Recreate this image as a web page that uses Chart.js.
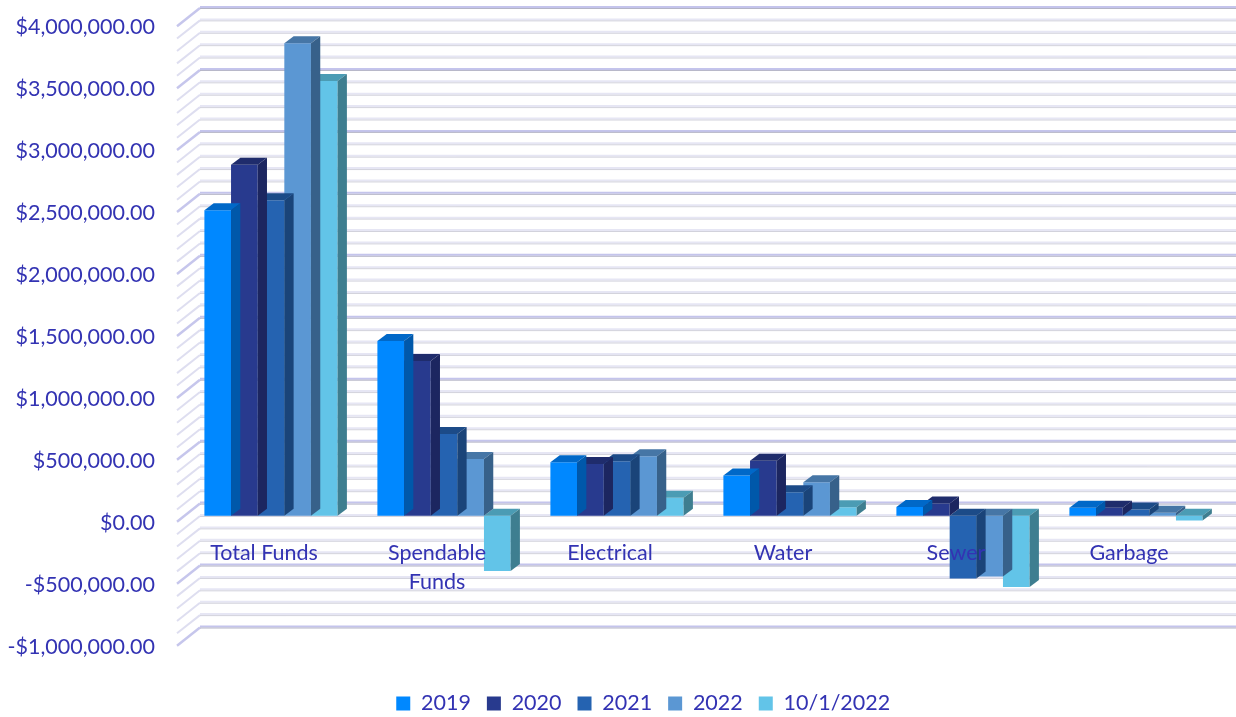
<!DOCTYPE html>
<html>
<head>
<meta charset="utf-8">
<script src="https://cdn.jsdelivr.net/npm/chart.js@4.4.0/dist/chart.umd.min.js"></script>
<style>
    html, body { margin: 0; padding: 0; background: #fff; }
    #wrap { width: 1236px; height: 717px; }
</style>
</head>
<body>
<div id="wrap"><canvas id="fundsChart"></canvas></div>
<script>
// Fund balances by year
const categories = ['Total Funds', ['Spendable', 'Funds'], 'Electrical', 'Water', 'Sewer', 'Garbage'];
const seriesNames = ['2019', '2020', '2021', '2022', '10/1/2022'];
const values2019 = [2466000, 1411000, 432000, 325000, 72000, 65000];
const values2020 = [2834000, 1250000, 419000, 445000, 100000, 65000];
const values2021 = [2547000, 660000, 440000, 190000, -507000, 50000];
const values2022 = [3814000, 459000, 480000, 270000, -489000, 25000];
const valuesOct2022 = [3510000, -445000, 145000, 70000, -574000, -38000];
const yMin = -1000000;
const yMax = 4000000;
const yMajorStep = 500000;
const yMinorStep = 100000;

const frontColors = ['#0088ff', '#283a8e', '#2563b1', '#5b97d3', '#62c4e8'];
const topColors = ['#0068c8', '#1f2c6c', '#1c4b88', '#4676a6', '#4b9cb4'];
const sideColors = ['#0058aa', '#1c2660', '#1a4479', '#37618a', '#3e7e90'];

const TEXT = '#3333b3';
const FONT = 'Lato';
const BAR_DX = 9.3, BAR_DY = -7;        // bar depth
const BACK_DX = 15.5, BACK_DY = -12.2;  // bar plane -> back wall
const FRONT_DX = -7.5, FRONT_DY = 6;    // bar plane -> front edge
const LEGEND_SHIFT = 32;

function money(v) {
    const s = Math.abs(v).toLocaleString('en-US', { minimumFractionDigits: 2, maximumFractionDigits: 2 });
    return (v < 0 ? '-$' : '$') + s;
}

function line(ctx, x1, y1, x2, y2, color, w) {
    ctx.strokeStyle = color;
    ctx.lineWidth = w;
    ctx.beginPath();
    ctx.moveTo(x1, y1);
    ctx.lineTo(x2, y2);
    ctx.stroke();
}

function poly(ctx, pts, color) {
    ctx.fillStyle = color;
    ctx.beginPath();
    ctx.moveTo(pts[0][0], pts[0][1]);
    for (let i = 1; i < pts.length; i++) ctx.lineTo(pts[i][0], pts[i][1]);
    ctx.closePath();
    ctx.fill();
}

const depthPlugin = {
    id: 'depth3d',
    afterLayout(chart) {
        // legend sits a bit right of the canvas centre in the original
        if (chart.legend) {
            chart.legend.left += LEGEND_SHIFT;
            chart.legend.right += LEGEND_SHIFT;
        }
    },
    beforeDatasetsDraw(chart) {
        const { ctx, chartArea, scales: { y } } = chart;
        const left = chartArea.left;
        ctx.save();
        y.ticks.forEach((tick) => {
            const py = y.getPixelForValue(tick.value);
            const major = Math.round(tick.value) % yMajorStep === 0;
            const bx = left + BACK_DX, by = py + BACK_DY;
            // side wall diagonal
            line(ctx, left + FRONT_DX, py + FRONT_DY, bx, by, major ? '#c6c6ec' : '#dedef0', major ? 2.5 : 2);
            // back wall line
            line(ctx, bx, by - 1, chart.width, by - 1, major ? '#c4c4ec' : '#e6e6f4', 2);
            line(ctx, bx, by + 0.5, chart.width, by + 0.5, major ? '#b4b4c6' : '#d2d2dc', 1);
        });
        ctx.restore();
    },
    afterDatasetDraw(chart, args) {
        const { ctx } = chart;
        const i = args.index;
        ctx.save();
        args.meta.data.forEach((el) => {
            const { x, y, base, width } = el.getProps(['x', 'y', 'base', 'width'], true);
            const l = x - width / 2, r = x + width / 2;
            const top = Math.min(y, base), bottom = Math.max(y, base);
            poly(ctx, [[l, top], [r, top], [r + BAR_DX, top + BAR_DY], [l + BAR_DX, top + BAR_DY]], topColors[i]);
            poly(ctx, [[r, top], [r + BAR_DX, top + BAR_DY], [r + BAR_DX, bottom + BAR_DY], [r, bottom]], sideColors[i]);
        });
        ctx.restore();
    },
};

const seriesValues = [values2019, values2020, values2021, values2022, valuesOct2022];

new Chart(document.getElementById('fundsChart'), {
    type: 'bar',
    data: {
        labels: categories,
        datasets: seriesNames.map((name, i) => ({
            label: name,
            data: seriesValues[i],
            backgroundColor: frontColors[i],
            borderWidth: 0,
            categoryPercentage: 0.77,
            barPercentage: 1,
        })),
    },
    options: {
        responsive: true,
        maintainAspectRatio: false,
        animation: false,
        layout: { padding: { left: 0, right: 13.5, top: 20.2, bottom: -7.2 } },
        plugins: {
            legend: {
                position: 'bottom',
                title: { display: true, text: '', font: { size: 1 }, padding: { top: 35.8, bottom: 0 } },
                labels: {
                    boxWidth: 14,
                    boxHeight: 14,
                    padding: 16,
                    color: TEXT,
                    font: { family: FONT, size: 21.5 },
                },
            },
            tooltip: { enabled: false },
        },
        scales: {
            x: {
                position: { y: 0 },
                grid: { display: false, drawTicks: false },
                border: { display: false },
                ticks: {
                    z: 1,
                    color: TEXT,
                    font: { family: FONT, size: 21.5, lineHeight: 1.35 },
                    padding: 23,
                    labelOffset: -7,
                    maxRotation: 0,
                },
            },
            y: {
                min: yMin,
                max: yMax,
                afterFit: (scale) => { scale.width = 184.5; },
                grid: { display: false, drawTicks: true, tickLength: 29.5 },
                border: { display: false },
                ticks: {
                    stepSize: yMinorStep,
                    autoSkip: false,
                    color: TEXT,
                    font: { family: FONT, size: 21.5 },
                    padding: 0,
                    labelOffset: 7,
                    callback: (v) => (Math.round(v) % yMajorStep === 0 ? money(v) : ''),
                },
            },
        },
    },
    plugins: [depthPlugin],
});
</script>
</body>
</html>
